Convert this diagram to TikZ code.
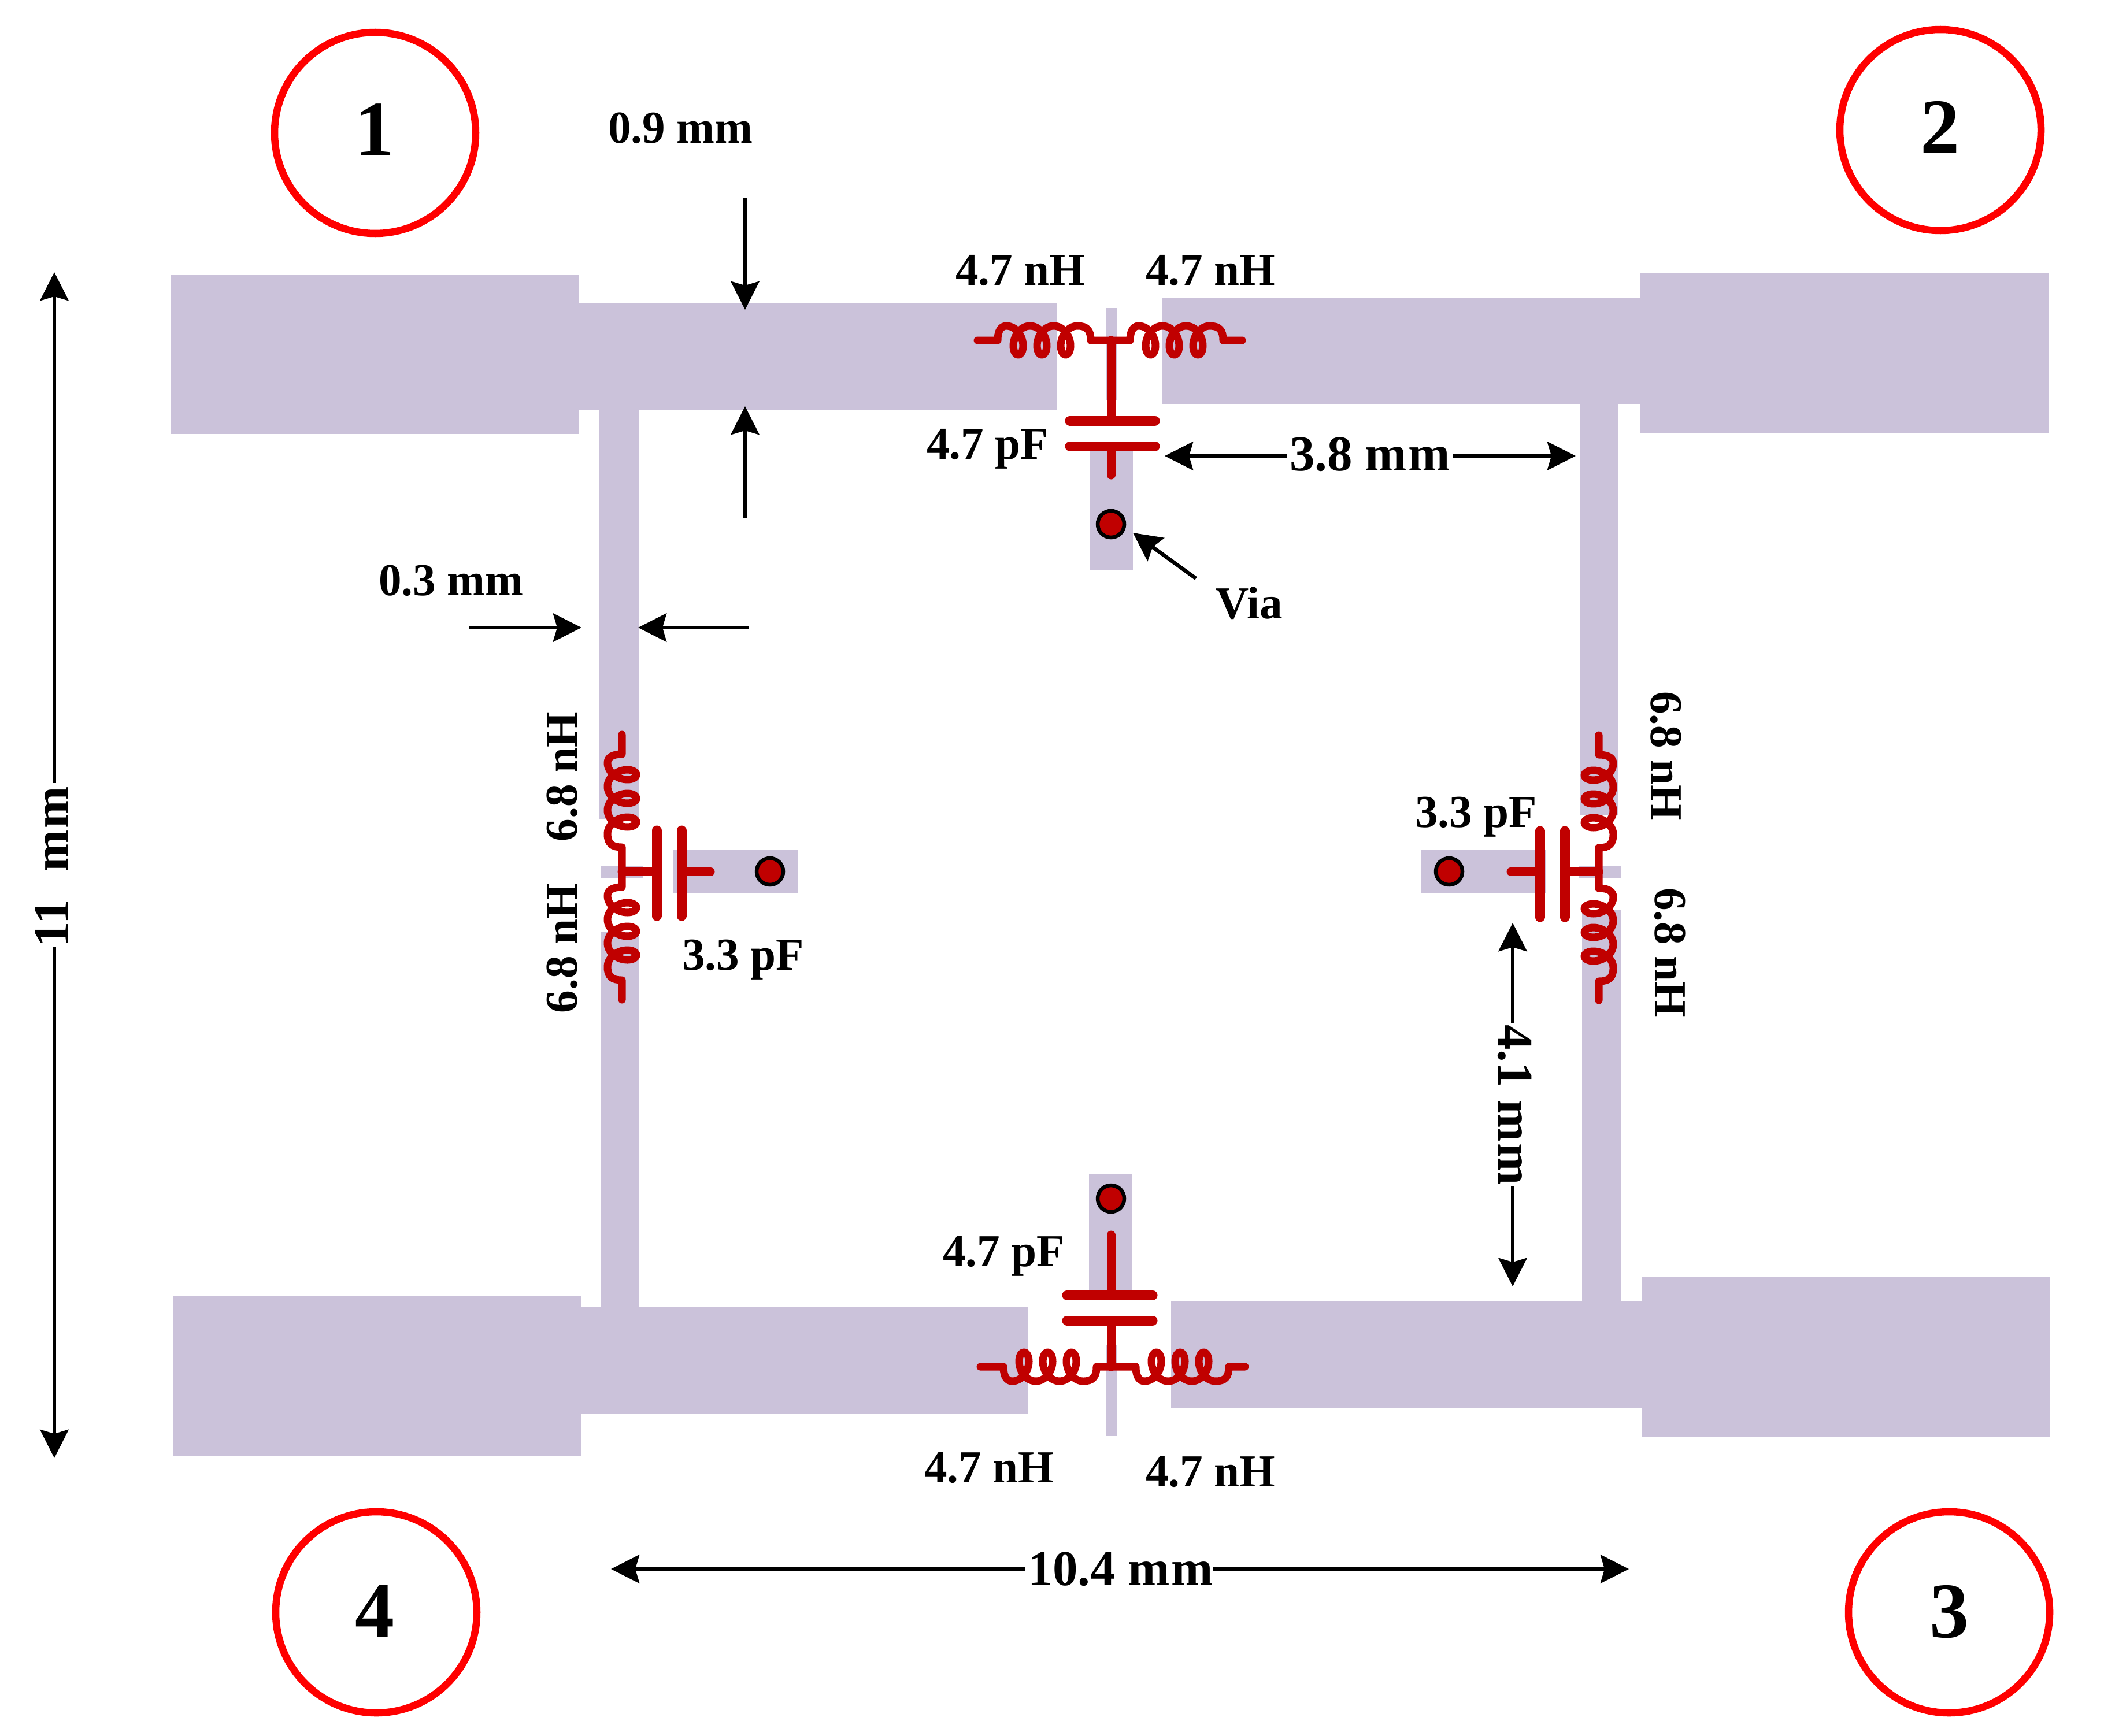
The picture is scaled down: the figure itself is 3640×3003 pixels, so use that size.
\documentclass[tikz,border=0pt]{standalone}
\usepackage{fontspec}
\setmainfont{Liberation Serif}
\usetikzlibrary{arrows.meta}
\definecolor{metal}{RGB}{203,194,218}
\definecolor{wirered}{RGB}{192,0,0}
\definecolor{portred}{RGB}{255,0,0}
\tikzset{
  metalfill/.style={fill=metal,draw=none},
  coilwire/.style={line width=0.13cm,color=wirered,line join=round,line cap=round},
  leadwire/.style={line width=0.15cm,color=wirered,line cap=round},
  plate/.style={line width=0.17cm,color=wirered,line cap=round},
  viadot/.style={fill=wirered,draw=black,line width=0.065cm},
  port/.style={draw=portred,line width=0.125cm},
  dimline/.style={line width=0.065cm,color=black},
  dimarrow/.style={dimline,-{Stealth[length=0.49cm,width=0.49cm,inset=0.07cm]}},
  lab/.style={inner sep=0pt,outer sep=0pt,anchor=base west,font=\fontsize{22.5}{27}\selectfont\bfseries},
  biglab/.style={inner sep=0pt,outer sep=0pt,anchor=base west,font=\fontsize{24.7}{30}\selectfont\bfseries},
  portlab/.style={inner sep=0pt,outer sep=0pt,anchor=base,font=\fontsize{38.7}{46}\selectfont\bfseries},
}
% origin, axis u, side v (towards the arcs), tail before, tail after
\newcommand{\coilat}[8]{%
  \draw[coilwire] ({#1-#3*#7},{#2-#4*#7}) -- (#1,#2)
  .. controls ({#1+#5*17},{#2+#6*17}) and ({#1+#3*6+#5*25},{#2+#4*6+#6*25}) .. ({#1+#3*15+#5*25},{#2+#4*15+#6*25})
  -- plot[domain=0:1080,samples=145] ({#1+#3*(15+0.11389*\x+17.5*sin(\x))+#5*25*cos(\x)},{#2+#4*(15+0.11389*\x+17.5*sin(\x))+#6*25*cos(\x)})
  .. controls ({#1+#3*155+#5*25},{#2+#4*155+#6*25}) and ({#1+#3*161+#5*17},{#2+#4*161+#6*17}) .. ({#1+#3*161},{#2+#4*161})
  -- ({#1+#3*(161+#8)},{#2+#4*(161+#8)});}
\newcommand{\mmtext}{m\kern0.03em m}
\begin{document}
\begin{tikzpicture}[x=0.01cm,y=-0.01cm]
\useasboundingbox (0,0) rectangle (3640,3003);
% microstrip layout
\fill[metalfill] (296,475) rectangle (1002,751);
\fill[metalfill] (1002,525) rectangle (1829,709);
\fill[metalfill] (2011,515) rectangle (2838,699);
\fill[metalfill] (2838,473) rectangle (3544,749);
\fill[metalfill] (299,2243) rectangle (1005,2519);
\fill[metalfill] (1005,2261) rectangle (1778,2447);
\fill[metalfill] (2026,2252) rectangle (2841,2437);
\fill[metalfill] (2841,2210) rectangle (3547,2487);
\fill[metalfill] (1037,709) rectangle (1105,1418);
\fill[metalfill] (1039,1612) rectangle (1106,2261);
\fill[metalfill] (2733,699) rectangle (2800,1411);
\fill[metalfill] (2737,1575) rectangle (2804,2252);
\fill[metalfill] (1913,533) rectangle (1932,692);
\fill[metalfill] (1885,772) rectangle (1960,987);
\fill[metalfill] (1913,2327) rectangle (1932,2485);
\fill[metalfill] (1884,2031) rectangle (1958,2241);
\fill[metalfill] (1039,1498) rectangle (1113,1519);
\fill[metalfill] (1165,1471) rectangle (1380,1546);
\fill[metalfill] (2731,1498) rectangle (2805,1519);
\fill[metalfill] (2459,1471) rectangle (2674,1546);
% vias
\draw[viadot] (1922,907) circle[radius=23];
\draw[viadot] (1922,2074) circle[radius=23];
\draw[viadot] (1332,1508) circle[radius=23];
\draw[viadot] (2507,1508) circle[radius=23];
% top T network
\coilat{1726}{589}{1}{0}{0}{-1}{35}{35}
\coilat{1955}{589}{1}{0}{0}{-1}{34}{33}
\draw[leadwire] (1922,589) -- (1922,728);
\draw[leadwire] (1922,772) -- (1922,822);
\draw[plate] (1851,728) -- (1998,728);
\draw[plate] (1851,772) -- (1998,772);
% bottom T network
\coilat{1736}{2365}{1}{0}{0}{1}{40}{25}
\coilat{1965}{2365}{1}{0}{0}{1}{43}{28}
\draw[leadwire] (1922,2137) -- (1922,2241);
\draw[leadwire] (1922,2285) -- (1922,2365);
\draw[plate] (1846,2241) -- (1994,2241);
\draw[plate] (1846,2285) -- (1994,2285);
% left T network
\coilat{1076}{1305}{0}{1}{-1}{0}{34}{42}
\coilat{1076}{1535}{0}{1}{-1}{0}{27}{34}
\draw[leadwire] (1076,1508) -- (1136,1508);
\draw[leadwire] (1179,1508) -- (1229,1508);
\draw[plate] (1136,1437) -- (1136,1585);
\draw[plate] (1179,1437) -- (1179,1585);
% right T network
\coilat{2766}{1306}{0}{1}{1}{0}{34}{41}
\coilat{2766}{1537}{0}{1}{1}{0}{29}{33}
\draw[leadwire] (2766,1508) -- (2707,1508);
\draw[leadwire] (2664,1508) -- (2614,1508);
\draw[plate] (2664,1438) -- (2664,1587);
\draw[plate] (2707,1438) -- (2707,1587);
% ports
\draw[port] (649,230) circle[radius=174];
\draw[port] (3357,225) circle[radius=174];
\draw[port] (3372,2790) circle[radius=174];
\draw[port] (651,2790) circle[radius=174];
\node[portlab] (n1) at (649,269) {1};
\node[portlab] (n2) at (3356,265) {2};
\node[portlab] (n3) at (3372,2833) {3};
\node[portlab] (n4) at (649,2832) {4};
% component labels
\node[lab] (l47a) at (1653,493) {4.7 nH};
\node[lab] (l47b) at (1982,493) {4.7 nH};
\node[lab] (c47a) at (1603,794) {4.7 pF};
\node[lab] (c47b) at (1631,2191) {4.7 pF};
\node[lab] (l47c) at (1599,2565) {4.7 nH};
\node[lab] (l47d) at (1982,2572) {4.7 nH};
\node[lab] (c33a) at (1180,1678) {3.3 pF};
\node[lab] (c33b) at (2448,1431) {3.3 pF};
\node[lab,rotate=90] (l68a) at (998,1456) {6.8 nH};
\node[lab,rotate=90] (l68b) at (998,1753) {6.8 nH};
\node[lab,rotate=-90] (l68c) at (2856,1196) {6.8 nH};
\node[lab,rotate=-90] (l68d) at (2863,1536) {6.8 nH};
\node[lab] (via) at (2103,1070) {Via};
\node[lab] (d09) at (1052,247) {0.9 mm};
\node[lab] (d03) at (655,1030) {0.3 mm};
% dimensions
\node[biglab] (d38) at (2231,814) {3.8 \mmtext};
\node[biglab] (d104) at (1778,2743) {10.4 \mmtext};
\node[biglab,rotate=90] (d11) at (118,1638) {11\hspace{0.55em}\mmtext};
\node[biglab,rotate=-90] (d41) at (2592,1773) {4.1 \mmtext};
\draw[dimarrow] (1289,343) -- (1289,536);
\draw[dimarrow] (1289,896) -- (1289,703);
\draw[dimarrow] (812,1086) -- (1006,1086);
\draw[dimarrow] (1296,1086) -- (1104,1086);
\draw[dimarrow] (2069,1001) -- (1960,922);
\draw[dimarrow] (2226,789) -- (2015,789);
\draw[dimarrow] (2514,789) -- (2726,789);
\draw[dimarrow] (1773,2715) -- (1057,2715);
\draw[dimarrow] (2098,2715) -- (2818,2715);
\draw[dimarrow] (94,1355) -- (94,471);
\draw[dimarrow] (94,1638) -- (94,2523);
\draw[dimarrow] (2617,1770) -- (2617,1597);
\draw[dimarrow] (2617,2053) -- (2617,2226);
\end{tikzpicture}
\end{document}
